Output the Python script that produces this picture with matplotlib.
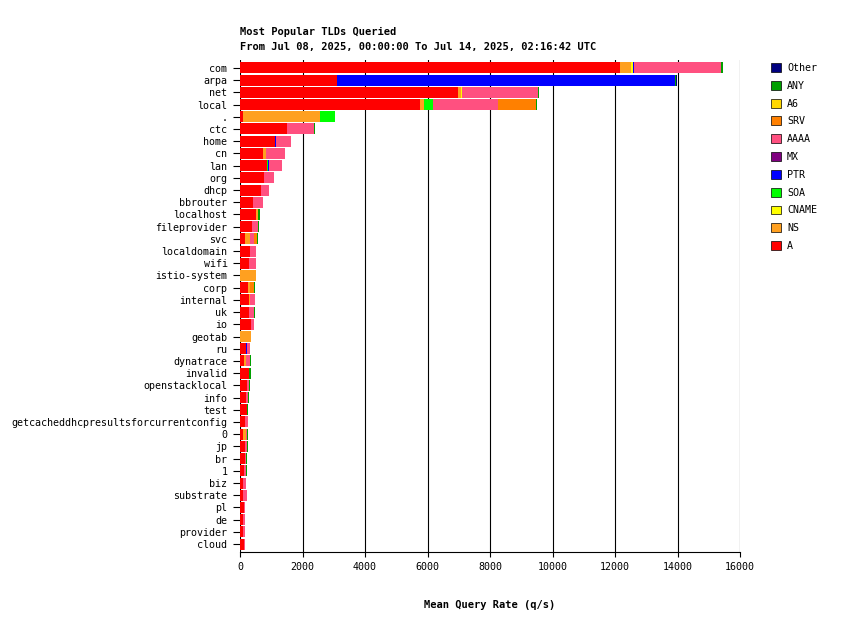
import matplotlib
matplotlib.use("Agg")
import matplotlib.pyplot as plt
from matplotlib.patches import Patch

tlds = ["com","arpa","net","local",".","ctc","home","cn","lan","org","dhcp","bbrouter",
        "localhost","fileprovider","svc","localdomain","wifi","istio-system","corp","internal",
        "uk","io","geotab","ru","dynatrace","invalid","openstacklocal","info","test",
        "getcacheddhcpresultsforcurrentconfig","0","jp","br","1","biz","substrate","pl","de",
        "provider","cloud"]

A     = [12170,3090,6990,5760,95,1500,1110,750,870,765,670,400,515,390,155,330,280,0,265,300,
         300,350,0,190,130,300,225,190,225,160,95,160,150,130,95,95,130,85,85,140]
NS    = [340,0,80,125,2450,0,0,95,0,15,0,0,60,0,170,0,0,500,40,20,
         0,15,350,0,65,0,0,0,0,0,85,0,0,0,0,0,0,20,0,0]
CNAME = [50,0,30,0,0,0,0,0,0,0,0,0,0,0,0,0,0,0,0,0,
         0,0,0,0,0,0,0,0,0,0,0,0,0,0,0,0,0,0,0,0]
SOA   = [0,0,0,300,480,0,0,0,30,0,0,0,0,0,0,0,0,0,0,0,
         0,0,0,0,0,0,0,0,0,0,0,0,0,0,0,0,0,0,0,0]
PTR   = [40,10830,0,0,0,0,45,0,30,0,0,0,0,0,0,0,0,0,0,0,
         0,0,0,20,0,0,0,0,0,0,0,0,0,0,0,0,0,0,0,0]
MX    = [0,0,0,0,0,0,0,0,0,0,0,0,0,0,0,0,0,0,0,0,
         0,0,0,10,0,0,0,0,0,0,0,0,0,0,0,0,0,0,0,0]
AAAA  = [2780,0,2450,2060,20,870,470,590,400,300,250,330,0,190,125,170,220,0,0,150,
         160,75,0,100,130,0,75,65,0,95,55,65,40,65,95,120,30,40,75,20]
SRV   = [0,0,0,1230,0,0,0,0,0,0,0,0,0,0,90,0,0,0,150,0,
         0,0,0,0,0,0,0,0,0,0,0,0,0,0,0,0,0,0,0,0]
A6    = [0]*40
ANY   = [60,40,30,40,0,20,10,20,20,15,15,10,60,20,20,10,10,15,20,20,
         20,15,0,15,15,40,15,20,15,0,15,15,20,15,15,0,15,15,15,15]
Other = [0,30,0,0,0,0,0,0,0,0,0,0,0,0,0,0,0,0,0,0,
         0,0,0,0,0,0,0,0,0,0,0,0,0,0,0,0,0,0,0,0]

series = [("A",A,"#ff0000"),("NS",NS,"#ffa020"),("CNAME",CNAME,"#ffff00"),("SOA",SOA,"#00ff00"),
          ("PTR",PTR,"#0000ff"),("MX",MX,"#800080"),("AAAA",AAAA,"#ff5080"),("SRV",SRV,"#ff8000"),
          ("A6",A6,"#ffd700"),("ANY",ANY,"#00a000"),("Other",Other,"#000080")]

mono = "DejaVu Sans Mono"
plt.rcParams["font.family"] = mono
fig = plt.figure(figsize=(8.42,6.35), dpi=100)
ax = fig.add_axes([240/842, 1-552/635, 500/842, (552-60)/635])
y = list(range(len(tlds)))
left = [0]*len(tlds)
for name, vals, col in series:
    ax.barh(y, vals, left=left, color=col, height=0.9, linewidth=0)
    left = [l+v for l, v in zip(left, vals)]
ax.set_ylim(len(tlds)-0.35, -0.65)
ax.set_xlim(0, 16000)
ax.set_xticks(range(0, 16001, 2000))
ax.set_yticks(y)
ax.set_yticklabels(tlds, fontsize=7.2)
ax.tick_params(axis="x", labelsize=7.2)
ax.tick_params(axis="y", length=5, pad=4)
ax.xaxis.grid(True, color="black", linewidth=0.8)
ax.set_axisbelow(True)
for s in ["top","right","left"]:
    ax.spines[s].set_visible(False)
ax.set_xlabel("Mean Query Rate (q/s)", fontsize=7.5, fontweight="bold", labelpad=20)
fig.text(240/842, 1-32/635, "Most Popular TLDs Queried", fontsize=7.5, fontweight="bold", va="center")
fig.text(240/842, 1-47/635, "From Jul 08, 2025, 00:00:00 To Jul 14, 2025, 02:16:42 UTC",
         fontsize=7.5, fontweight="bold", va="center")
handles = [Patch(facecolor=c, edgecolor="black", linewidth=0.5, label=n) for n, _, c in reversed(series)]
fig.legend(handles=handles, loc="upper left", bbox_to_anchor=(762/842, 1-54/635), frameon=False,
           fontsize=7.2, handlelength=1.0, handleheight=1.0, handletextpad=0.6, labelspacing=0.78)
fig.savefig("out.png", dpi=100)
